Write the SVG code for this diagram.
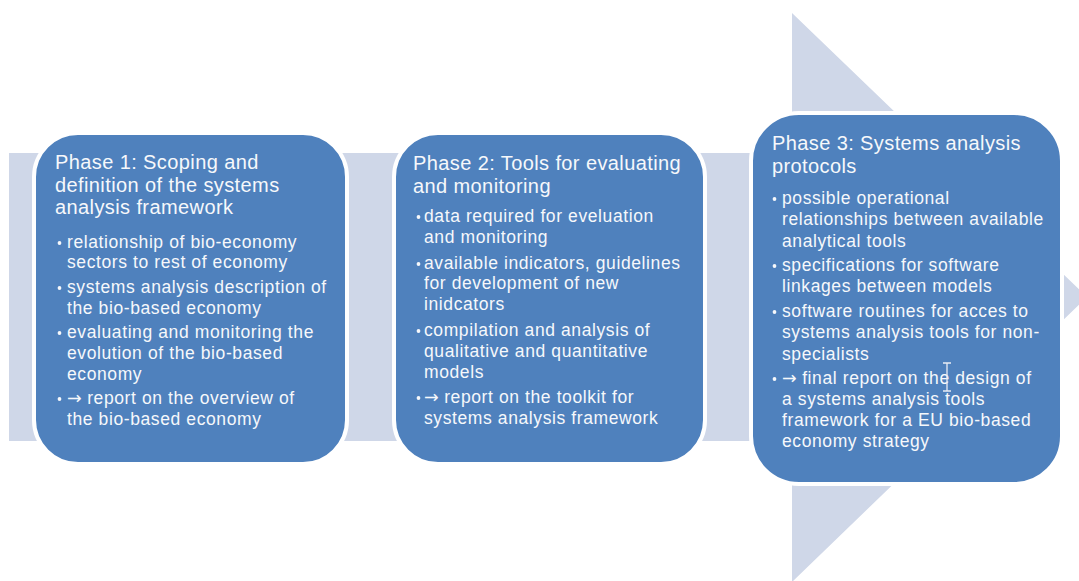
<svg xmlns="http://www.w3.org/2000/svg" width="1079" height="581" viewBox="0 0 1079 581">
  <style>
    .bg { fill: #ffffff; }
    .flow { fill: #CFD7E8; }
    .phase { fill: #4F81BD; stroke: #ffffff; stroke-width: 4; }
    .title { font-family: "Liberation Sans", Arial, sans-serif; font-size: 20px; letter-spacing: 0.4px; fill: #F6F8FB; }
    .item { font-family: "Liberation Sans", Arial, sans-serif; font-size: 17.5px; letter-spacing: 0.6px; fill: #F6F8FB; }
    .arrow { font-family: "DejaVu Sans", sans-serif; letter-spacing: 0; }
    .dot { fill: #F6F8FB; }
    .cursor { fill: none; stroke: #E8ECF4; stroke-width: 1.3; }
  </style>

  <rect class="bg" x="0" y="0" width="1079" height="581"/>

  <!-- broad process arrow behind the phases -->
  <g id="connectors">
    <path class="flow" d="M 9 153 L 792 153 L 792 13 L 1087 297 L 792 582 L 792 441 L 9 441 Z"/>
  </g>

  <!-- Phase 1 -->
  <g id="phase1">
    <rect class="phase" x="34" y="133" width="313" height="331" rx="44" ry="44"/>
    <text class="title" x="55" y="169">Phase 1: Scoping and</text>
    <text class="title" x="55" y="191.5">definition of the systems</text>
    <text class="title" x="55" y="214">analysis framework</text>
    <circle class="dot" cx="59.5" cy="243" r="1.9"/>
    <text class="item" x="67" y="248">relationship of bio-economy</text>
    <text class="item" x="67" y="268">sectors to rest of economy</text>
    <circle class="dot" cx="59.5" cy="288" r="1.9"/>
    <text class="item" x="67" y="293">systems analysis description of</text>
    <text class="item" x="67" y="313.5">the bio-based economy</text>
    <circle class="dot" cx="59.5" cy="333" r="1.9"/>
    <text class="item" x="67" y="338">evaluating and monitoring the</text>
    <text class="item" x="67" y="359">evolution of the bio-based</text>
    <text class="item" x="67" y="380">economy</text>
    <circle class="dot" cx="59.5" cy="399" r="1.9"/>
    <text class="item" x="67" y="404"><tspan class="arrow">→</tspan> report on the overview of</text>
    <text class="item" x="67" y="425">the bio-based economy</text>
  </g>

  <!-- Phase 2 -->
  <g id="phase2">
    <rect class="phase" x="394" y="133" width="311" height="331" rx="44" ry="44"/>
    <text class="title" x="413" y="170">Phase 2: Tools for evaluating</text>
    <text class="title" x="413" y="192.5">and monitoring</text>
    <circle class="dot" cx="418.5" cy="217" r="1.9"/>
    <text class="item" x="424" y="222">data required for eveluation</text>
    <text class="item" x="424" y="243">and monitoring</text>
    <circle class="dot" cx="418.5" cy="264" r="1.9"/>
    <text class="item" x="424" y="269">available indicators, guidelines</text>
    <text class="item" x="424" y="289">for development of new</text>
    <text class="item" x="424" y="310">inidcators</text>
    <circle class="dot" cx="418.5" cy="331" r="1.9"/>
    <text class="item" x="424" y="336">compilation and analysis of</text>
    <text class="item" x="424" y="357">qualitative and quantitative</text>
    <text class="item" x="424" y="378">models</text>
    <circle class="dot" cx="418.5" cy="398" r="1.9"/>
    <text class="item" x="424" y="403"><tspan class="arrow">→</tspan> report on the toolkit for</text>
    <text class="item" x="424" y="424">systems analysis framework</text>
  </g>

  <!-- Phase 3 -->
  <g id="phase3">
    <rect class="phase" x="751" y="113" width="311" height="371" rx="48" ry="48"/>
    <text class="title" x="772" y="150">Phase 3: Systems analysis</text>
    <text class="title" x="772" y="172.5">protocols</text>
    <circle class="dot" cx="774.5" cy="199" r="1.9"/>
    <text class="item" x="782" y="204">possible operational</text>
    <text class="item" x="782" y="225">relationships between available</text>
    <text class="item" x="782" y="247">analytical tools</text>
    <circle class="dot" cx="774.5" cy="266" r="1.9"/>
    <text class="item" x="782" y="271">specifications for software</text>
    <text class="item" x="782" y="292">linkages between models</text>
    <circle class="dot" cx="774.5" cy="312" r="1.9"/>
    <text class="item" x="782" y="317">software routines for acces to</text>
    <text class="item" x="782" y="338">systems analysis tools for non-</text>
    <text class="item" x="782" y="360">specialists</text>
    <circle class="dot" cx="774.5" cy="379" r="1.9"/>
    <text class="item" x="782" y="384"><tspan class="arrow">→</tspan> final report on the design of</text>
    <text class="item" x="782" y="405">a systems analysis tools</text>
    <text class="item" x="782" y="426">framework for a EU bio-based</text>
    <text class="item" x="782" y="447">economy strategy</text>
    <!-- text-insertion caret -->
    <path class="cursor" d="M 943 363 L 951 363 M 947 363 L 947 391 M 943 391 L 951 391"/>
  </g>
</svg>
